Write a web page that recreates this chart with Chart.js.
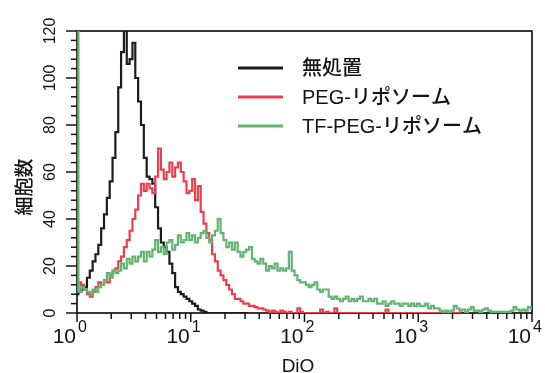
<!DOCTYPE html>
<html>
<head>
<meta charset="utf-8">
<script src="https://cdn.jsdelivr.net/npm/chart.js@4.4.1/dist/chart.umd.min.js"></script>
<style>
  html, body { margin: 0; padding: 0; background: #fff; }
</style>
</head>
<body>
<canvas id="chartHist" width="545" height="373"></canvas>
<script>
// --- DATA: cell counts per DiO channel (40 channels per decade, 10^0 .. 10^4) ---
const CHANNELS_PER_DECADE = 40;
const seriesLabels = ['無処置', 'PEG-リポソーム', 'TF-PEG-リポソーム'];
const xTickExponents = [0, 1, 2, 3, 4];
const yTickValues = [0, 20, 40, 60, 80, 100, 120];

const untreated = [
  8, 9, 10, 11, 15, 18, 22, 25, 29, 36,
  42, 49, 56, 66, 77, 96, 111, 120, 106, 108,
  115, 100, 90, 80, 66, 58, 57, 55, 45, 36,
  30, 28, 26, 21, 17, 11, 9, 8, 7, 6,
  5, 4, 3, 1.5, 1, 0.5, 0, 0, 0, 0,
  0, 0, 0, 0, 0, 0, 0, 0, 0, 0, 0
];

const pegLiposome = [
  10, 13, 12, 10, 8, 7, 9, 11, 13, 12,
  14, 13, 16, 18, 19, 22, 24, 28, 31, 35,
  40, 44, 50, 55, 52, 55, 53, 51, 58, 70,
  61, 57, 60, 64, 58, 62, 64, 60, 56, 51,
  52, 57, 48, 54, 43, 38, 34, 31, 25, 22,
  18, 16, 14, 12, 10, 8, 6, 6, 5, 4,
  4, 3, 3, 2.5, 2, 2, 1.5, 1, 0.5, 1,
  0.5, 0, 1, 0.5, 0, 0.5, 0, 0, 2, 0.5,
  0, 0, 0, 0, 0, 0, 1.5, 0, 0.5, 0,
  0, 2, 0, 0, 0, 0, 0, 0, 0, 0,
  0, 0, 0, 0, 0, 0, 0, 0, 0, 1.5,
  0, 0, 0, 0, 0, 0, 0, 0, 0, 0,
  0, 0, 0, 0, 0, 0, 0, 0, 0, 0,
  0, 0, 0, 0, 0, 0
];

const tfPegLiposome = [
  125, 9, 11, 10, 9, 8, 10, 9, 11, 12,
  14, 17, 15, 18, 17, 18, 21, 19, 23, 21,
  24, 22, 24, 26, 22, 26, 24, 27, 31, 26,
  28, 25, 30, 31, 27, 29, 33, 30, 31, 34,
  31, 33, 30, 32, 34, 35, 32, 30, 33, 35,
  40, 34, 31, 28, 30, 27, 30, 26, 24, 26,
  27, 28, 23, 22, 21, 23, 21, 18, 20, 19,
  21, 18, 19, 18, 19, 26, 18, 16, 14, 13,
  13, 12, 11, 12, 13, 10, 9, 10, 10, 7,
  6, 7, 6, 5, 6, 7, 5, 6, 5, 6,
  7, 5, 5, 6, 5, 6, 4, 4, 5, 3,
  4, 5, 4, 4, 3, 4, 4, 3, 4, 3,
  4, 3, 3, 4, 2, 3, 2, 2, 1, 0.5,
  1, 0.5, 1, 3, 2, 1, 1.5, 0.5, 1.5, 2.5,
  1, 1, 0.5, 1.5, 2, 1, 0.5, 0.5, 0.5, 0.5,
  0.5, 0.5, 0.5, 1, 2.5, 1.5, 1, 1.5, 1, 2.5, 2
];

const COLORS = ['#1c1c1c', '#ec3f4e', '#62b571'];

// channel index -> DiO intensity
function toPoints(counts) {
  return counts.map((v, i) => ({ x: Math.pow(10, i / CHANNELS_PER_DECADE), y: v }));
}

const TXT = '#141414';
const SANS = "'Liberation Sans', Arial, sans-serif";
const JP_FONT = "'Liberation Sans', 'Noto Sans CJK JP', sans-serif";

// --- frame, tick marks, superscript labels, titles, legend ---
const axisDecor = {
  id: 'axisDecor',
  beforeDatasetsDraw(chart) {
    const { ctx, chartArea: a, scales: { x, y } } = chart;
    ctx.save();
    ctx.strokeStyle = TXT;
    ctx.lineWidth = 1.7;
    ctx.strokeRect(a.left, a.top, a.right - a.left, a.bottom - a.top);

    // y ticks: minor every 4, major every 20
    ctx.lineWidth = 1.5;
    for (let v = 0; v <= 120; v += 4) {
      const py = y.getPixelForValue(v);
      const len = v % 20 === 0 ? 11 : 6;
      ctx.beginPath();
      ctx.moveTo(a.left - len, py);
      ctx.lineTo(a.left, py);
      ctx.stroke();
    }
    // x ticks: log decades with minor 2..9
    for (let d = 0; d < 4; d++) {
      for (let m = 1; m <= 9; m++) {
        const px = x.getPixelForValue(m * Math.pow(10, d));
        const len = m === 1 ? 9 : 6;
        ctx.beginPath();
        ctx.moveTo(px, a.bottom);
        ctx.lineTo(px, a.bottom + len);
        ctx.stroke();
      }
    }
    const pEnd = x.getPixelForValue(1e4);
    ctx.beginPath();
    ctx.moveTo(pEnd, a.bottom);
    ctx.lineTo(pEnd, a.bottom + 9);
    ctx.stroke();

    // x labels 10^n
    ctx.fillStyle = TXT;
    ctx.textBaseline = 'alphabetic';
    xTickExponents.forEach(e => {
      const px = x.getPixelForValue(Math.pow(10, e));
      ctx.font = "21px " + SANS;
      ctx.textAlign = 'right';
      ctx.fillText('10', px - 1, 343);
      ctx.font = "16px " + SANS;
      ctx.textAlign = 'left';
      ctx.fillText(String(e), px + 1, 332);
    });

    // axis titles
    ctx.font = "19px " + SANS;
    ctx.textAlign = 'center';
    ctx.fillText('DiO', 298, 372);

    ctx.save();
    ctx.translate(24, 187);
    ctx.rotate(-Math.PI / 2);
    ctx.font = "500 19px 'Noto Sans CJK JP', sans-serif";
    ctx.textAlign = 'center';
    ctx.textBaseline = 'middle';
    ctx.fillText('細胞数', 0, 0);
    ctx.restore();

    // legend
    const rows = [68, 97, 126];
    seriesLabels.forEach((lab, i) => {
      ctx.strokeStyle = COLORS[i];
      ctx.lineWidth = 3;
      ctx.beginPath();
      ctx.moveTo(238, rows[i]);
      ctx.lineTo(283, rows[i]);
      ctx.stroke();
      ctx.fillStyle = TXT;
      ctx.font = "500 20px " + JP_FONT;
      ctx.textAlign = 'left';
      ctx.textBaseline = 'middle';
      ctx.fillText(lab, 302, rows[i] + 1);
    });
    ctx.restore();
  }
};

const ctxHist = document.getElementById('chartHist').getContext('2d');
new Chart(ctxHist, {
  type: 'line',
  data: {
    datasets: [
      { label: seriesLabels[0], data: toPoints(untreated), borderColor: COLORS[0], order: 3 },
      { label: seriesLabels[1], data: toPoints(pegLiposome), borderColor: COLORS[1], order: 2 },
      { label: seriesLabels[2], data: toPoints(tfPegLiposome), borderColor: COLORS[2], order: 1 }
    ]
  },
  options: {
    responsive: false,
    animation: false,
    layout: { padding: { left: 0, right: 13, top: 31, bottom: 0 } },
    elements: {
      line: { borderWidth: 2.2, stepped: 'middle', fill: false },
      point: { radius: 0 }
    },
    plugins: {
      legend: { display: false },
      tooltip: { enabled: false }
    },
    scales: {
      x: {
        type: 'logarithmic',
        min: 1,
        max: 10000,
        grid: { display: false, drawTicks: false },
        border: { display: false },
        ticks: { display: false },
        afterFit: s => { s.height = 60; }
      },
      y: {
        min: 0,
        max: 120,
        grid: { display: false, drawTicks: false },
        border: { display: false },
        afterBuildTicks: s => { s.ticks = yTickValues.map(v => ({ value: v })); },
        ticks: {
          color: TXT,
          font: { family: SANS, size: 16 },
          minRotation: 90,
          maxRotation: 90,
          crossAlign: 'center',
          padding: 13,
          autoSkip: false
        },
        afterFit: s => { s.width = 77; }
      }
    }
  },
  plugins: [axisDecor]
});
</script>
</body>
</html>
